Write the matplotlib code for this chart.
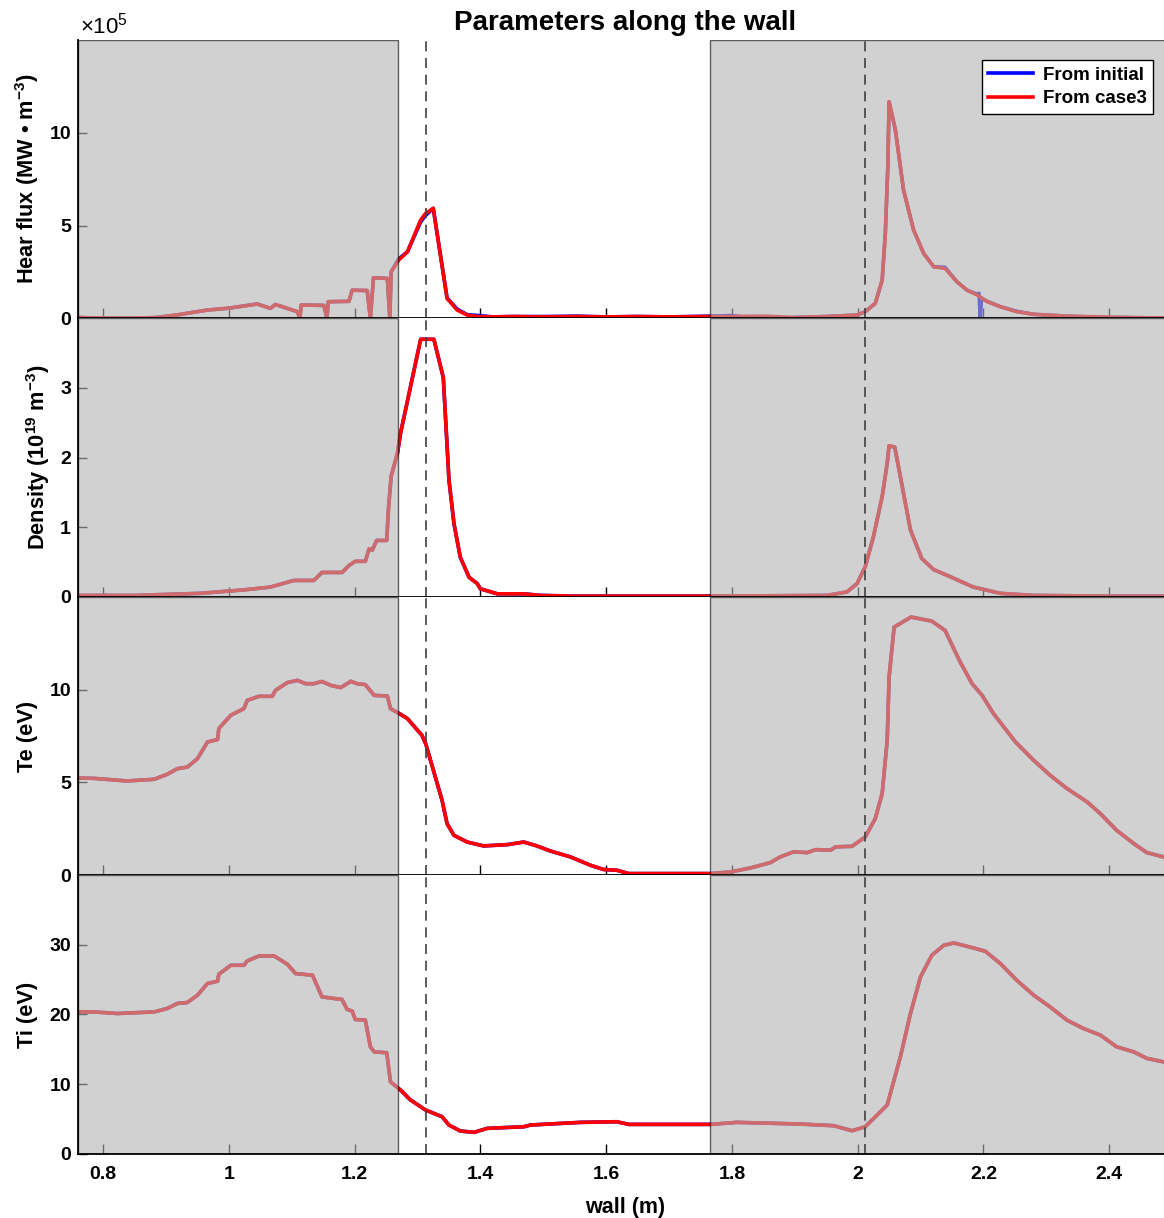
import matplotlib
matplotlib.use("Agg")
import matplotlib.pyplot as plt
import numpy as np

# ---- data ----
# heat flux, in units of 1e5
hf_x = [0.76, 0.80, 0.85, 0.886, 0.92, 0.966, 1.00, 1.045, 1.066, 1.074, 1.109, 1.113, 1.115,
        1.151, 1.156, 1.158, 1.191, 1.196, 1.22, 1.225, 1.23, 1.252, 1.256, 1.258, 1.270, 1.284,
        1.305, 1.313, 1.325, 1.347, 1.363, 1.379, 1.395, 1.42, 1.45, 1.50, 1.554, 1.60, 1.65,
        1.70, 1.766, 1.80, 1.85, 1.90, 1.95, 1.999, 2.012, 2.028, 2.039, 2.044, 2.048, 2.050,
        2.060, 2.073, 2.089, 2.105, 2.121, 2.139, 2.158, 2.174, 2.190, 2.193, 2.195, 2.197,
        2.206, 2.227, 2.253, 2.280, 2.333, 2.386, 2.44, 2.50]
hf_case3 = [0.05, 0.02, 0.02, 0.05, 0.2, 0.45, 0.55, 0.77, 0.54, 0.75, 0.36, 0.0, 0.72,
            0.70, 0.0, 0.9, 0.92, 1.52, 1.50, 0.0, 2.19, 2.15, 0.0, 2.5, 3.14, 3.59,
            5.3, 5.66, 5.93, 1.08, 0.45, 0.18, 0.1, 0.08, 0.1, 0.08, 0.1, 0.08, 0.1,
            0.08, 0.1, 0.1, 0.12, 0.05, 0.1, 0.18, 0.36, 0.81, 2.06, 4.58, 8.17, 11.67,
            10.15, 6.91, 4.76, 3.50, 2.78, 2.69, 1.97, 1.52, 1.26, 1.2, 1.15, 1.1,
            0.90, 0.63, 0.36, 0.22, 0.12, 0.08, 0.04, 0.02]
hf_initial = [0.05, 0.0, 0.0, 0.05, 0.2, 0.45, 0.55, 0.78, 0.54, 0.75, 0.36, 0.0, 0.72,
              0.70, 0.0, 0.9, 0.92, 1.52, 1.50, 0.0, 2.19, 2.15, 0.0, 2.5, 3.2, 3.59,
              5.2, 5.55, 5.93, 1.1, 0.5, 0.2, 0.16, 0.08, 0.1, 0.1, 0.12, 0.08, 0.1,
              0.08, 0.12, 0.15, -0.05, 0.05, 0.1, 0.18, 0.36, 0.81, 2.06, 4.58, 8.17, 11.67,
              10.15, 6.91, 4.76, 3.50, 2.78, 2.75, 1.97, 1.52, 1.3, 1.35, 0.0, 1.1,
              0.92, 0.63, 0.38, 0.22, 0.12, 0.06, 0.04, 0.02]

# density, 1e19 m^-3 (both runs overlap)
den_x = [0.76, 0.85, 0.955, 1.024, 1.066, 1.103, 1.135, 1.148, 1.180, 1.191, 1.201, 1.217,
         1.223, 1.228, 1.235, 1.251, 1.254, 1.258, 1.268, 1.273, 1.305, 1.326, 1.341, 1.350,
         1.358, 1.368, 1.382, 1.395, 1.400, 1.427, 1.469, 1.496, 1.55, 1.766, 1.951, 1.983,
         1.999, 2.012, 2.025, 2.039, 2.047, 2.050, 2.059, 2.071, 2.084, 2.102, 2.121, 2.142,
         2.184, 2.227, 2.280, 2.40, 2.50]
den = [0.02, 0.02, 0.05, 0.10, 0.14, 0.235, 0.235, 0.35, 0.35, 0.45, 0.51, 0.51,
       0.69, 0.67, 0.81, 0.81, 1.29, 1.73, 2.06, 2.35, 3.70, 3.70, 3.15, 1.68,
       1.05, 0.57, 0.28, 0.19, 0.115, 0.043, 0.043, 0.02, 0.01, 0.01, 0.02, 0.07,
       0.19, 0.43, 0.86, 1.44, 1.92, 2.17, 2.15, 1.58, 0.96, 0.55, 0.39, 0.31,
       0.14, 0.05, 0.02, 0.01, 0.01]

# electron temperature, eV
te_x = [0.76, 0.785, 0.838, 0.881, 0.902, 0.918, 0.934, 0.950, 0.966, 0.982, 0.984, 1.003,
        1.024, 1.029, 1.048, 1.069, 1.074, 1.093, 1.109, 1.122, 1.135, 1.148, 1.162, 1.178,
        1.194, 1.204, 1.217, 1.231, 1.252, 1.257, 1.273, 1.284, 1.307, 1.313, 1.339, 1.347,
        1.358, 1.379, 1.405, 1.443, 1.469, 1.490, 1.511, 1.543, 1.575, 1.596, 1.617, 1.636,
        1.766, 1.798, 1.829, 1.861, 1.877, 1.898, 1.920, 1.933, 1.957, 1.965, 1.991, 2.012,
        2.028, 2.039, 2.047, 2.050, 2.058, 2.085, 2.118, 2.139, 2.163, 2.182, 2.198, 2.216,
        2.251, 2.280, 2.306, 2.333, 2.365, 2.386, 2.412, 2.439, 2.460, 2.486, 2.50]
te = [5.24, 5.22, 5.08, 5.17, 5.44, 5.74, 5.83, 6.28, 7.18, 7.31, 7.9, 8.62,
      8.98, 9.42, 9.64, 9.64, 9.96, 10.38, 10.50, 10.32, 10.32, 10.44, 10.23, 10.11,
      10.45, 10.32, 10.27, 9.69, 9.66, 8.98, 8.67, 8.44, 7.54, 7.09, 4.04, 2.78,
      2.15, 1.79, 1.58, 1.65, 1.79, 1.58, 1.31, 0.99, 0.54, 0.31, 0.27, 0.09,
      0.09, 0.18, 0.39, 0.68, 0.99, 1.26, 1.22, 1.38, 1.35, 1.53, 1.56, 2.06,
      3.05, 4.40, 7.27, 10.68, 13.37, 13.91, 13.69, 13.19, 11.49, 10.32, 9.69, 8.71,
      7.18, 6.19, 5.39, 4.67, 3.95, 3.32, 2.42, 1.71, 1.22, 0.99, 0.9]

# ion temperature, eV
ti_x = [0.76, 0.785, 0.823, 0.881, 0.902, 0.918, 0.934, 0.950, 0.966, 0.982, 0.984, 1.003,
        1.024, 1.029, 1.048, 1.072, 1.093, 1.106, 1.133, 1.148, 1.180, 1.188, 1.196, 1.201,
        1.217, 1.225, 1.231, 1.251, 1.257, 1.273, 1.289, 1.313, 1.339, 1.350, 1.368, 1.390,
        1.411, 1.469, 1.480, 1.559, 1.617, 1.636, 1.766, 1.808, 1.909, 1.962, 1.991, 2.012,
        2.047, 2.068, 2.084, 2.100, 2.118, 2.137, 2.153, 2.184, 2.203, 2.227, 2.253, 2.280,
        2.306, 2.333, 2.359, 2.386, 2.412, 2.439, 2.460, 2.486, 2.50]
ti = [20.37, 20.37, 20.14, 20.37, 20.86, 21.58, 21.72, 22.77, 24.45, 24.78, 25.78, 27.07,
      27.07, 27.69, 28.41, 28.41, 27.22, 25.88, 25.64, 22.53, 22.15, 20.72, 20.5, 19.28,
      19.2, 15.36, 14.64, 14.5, 10.33, 9.14, 7.70, 6.27, 5.31, 4.12, 3.26, 3.07,
      3.64, 3.87, 4.12, 4.5, 4.59, 4.21, 4.21, 4.50, 4.26, 4.02, 3.30, 3.87,
      6.99, 13.92, 20.14, 25.4, 28.51, 29.94, 30.27, 29.56, 29.08, 27.32, 24.92, 22.77,
      21.09, 19.18, 17.99, 17.03, 15.35, 14.63, 13.69, 13.2, 13.1]

xticks = [0.8, 1.0, 1.2, 1.4, 1.6, 1.8, 2.0, 2.2, 2.4]
xtick_labels = ["0.8", "1", "1.2", "1.4", "1.6", "1.8", "2", "2.2", "2.4"]
shade_spans = [(0.76, 1.2693), (1.7658, 2.6)]
strike_points = [1.3134, 2.0117]

plt.rcParams["font.family"] = ["Liberation Sans", "DejaVu Sans"]
plt.rcParams["font.weight"] = "bold"
plt.rcParams["mathtext.fontset"] = "custom"
plt.rcParams["mathtext.rm"] = "Liberation Sans:regular"
plt.rcParams["mathtext.bf"] = "Liberation Sans:bold"
plt.rcParams["mathtext.default"] = "bf"

fig = plt.figure(figsize=(11.64, 12.18), dpi=100)
left, width, height = 0.067, 0.9399, 0.2286
bottoms = [0.7386, 0.5100, 0.2814, 0.0528]
axes = [fig.add_axes([left, b, width, height]) for b in bottoms]

panels = [
    (hf_x, hf_initial, hf_case3, 15, [0, 5, 10], r"Hear flux (MW • m$^{-3}$)", -0.034),
    (den_x, den, den, 4, [0, 1, 2, 3], r"Density (10$^{19}$ m$^{-3}$)", -0.024),
    (te_x, te, te, 15, [0, 5, 10], "Te (eV)", -0.037),
    (ti_x, ti, ti, 40, [0, 10, 20, 30], "Ti (eV)", -0.037),
]

for ax, (x, y_init, y_case, ytop, yt, ylab, lx) in zip(axes, panels):
    l1, = ax.plot(x, y_init, color="blue", lw=2.6, zorder=2, label="From initial")
    l2, = ax.plot(x, y_case, color="red", lw=2.6, zorder=2.1, label="From case3")
    for a, b in shade_spans:
        ax.axvspan(a, b, facecolor=(0.7, 0.7, 0.7), edgecolor="k", lw=1.0,
                   alpha=0.6, zorder=3)
    for xs in strike_points:
        ax.axvline(xs, color=(0.25, 0.25, 0.25), ls=(0, (6, 4)), lw=1.2, zorder=4)
    ax.set_xlim(0.76, 2.5)
    ax.set_ylim(0, ytop)
    ax.set_yticks(yt)
    ax.set_xticks(xticks)
    ax.spines["top"].set_visible(False)
    ax.spines["right"].set_visible(False)
    for s in ("left", "bottom"):
        ax.spines[s].set_zorder(5)
        ax.spines[s].set_linewidth(1.3)
    ax.tick_params(axis="x", direction="in", length=7, width=1, labelsize=14, pad=9)
    ax.tick_params(axis="y", direction="in", length=6.5, width=1, labelsize=14, pad=5)
    ax.set_ylabel(ylab, fontsize=15.7, fontweight="bold")
    ax.yaxis.set_label_coords(lx, 0.5)
    if ax is axes[-1]:
        ax.set_xticklabels(xtick_labels)
    else:
        ax.set_xticklabels([])
    if ax is axes[0]:
        handles = [l1, l2]

ax1 = axes[0]
ax1.set_title("Parameters along the wall", fontsize=20, fontweight="bold", pad=7)
ax1.text(0.002, 1.022, r"$\mathrm{\times10^{5}}$", transform=ax1.transAxes,
         fontsize=16, fontweight="normal", ha="left", va="baseline")
leg = ax1.legend(handles=handles, loc="upper right", bbox_to_anchor=(0.9826, 0.928),
                 borderaxespad=0, fancybox=False, framealpha=1, edgecolor="k",
                 prop={"size": 13.5, "weight": "bold"}, handlelength=2.4,
                 handletextpad=0.5, borderpad=0.35, labelspacing=0.35)
leg.get_frame().set_linewidth(1.0)
leg.set_zorder(6)

axes[-1].set_xlabel("wall (m)", fontsize=15.5, fontweight="bold", labelpad=10)

fig.savefig("out.png", dpi=100)
